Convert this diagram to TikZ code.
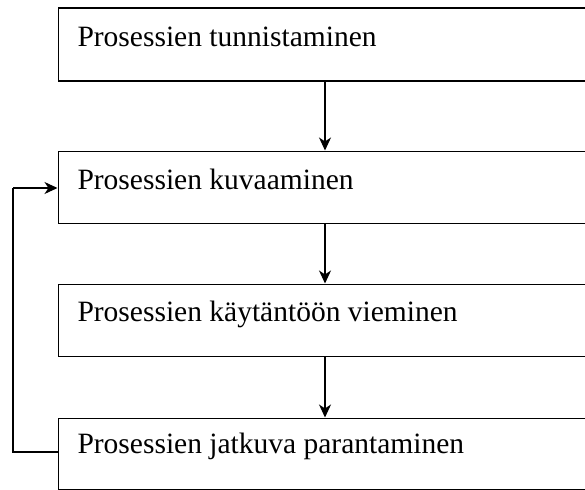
\documentclass[tikz,border=0pt]{standalone}
\usepackage{fontspec}
\setmainfont{Liberation Serif}
\usetikzlibrary{arrows.meta}
\begin{document}
\begin{tikzpicture}[x=1pt,y=1pt,
  box/.style={draw,line width=1.3pt,minimum width=560pt,inner sep=0pt,anchor=north west},
  lbl/.style={anchor=base west,inner sep=0pt,font=\fontsize{29.5}{34}\selectfont},
  conn/.style={line width=1.2pt,-{Stealth[length=13pt,width=12pt,inset=4pt]}},
  fb/.style={line width=1.2pt}]
\useasboundingbox (0,0) rectangle (585,-489);
\node[box,minimum height=73pt] (b1) at (57.5,-7.5) {};
\node[box,minimum height=72pt] (b2) at (57.5,-150.5) {};
\node[box,minimum height=72.5pt] (b3) at (57.5,-283.5) {};
\node[box,minimum height=71pt] (b4) at (57.5,-417.5) {};
\node[lbl] (t1) at ([xshift=19.8pt,yshift=-39pt]b1.north west) {Prosessien tunnistaminen};
\node[lbl] (t2) at ([xshift=19.8pt,yshift=-38.5pt]b2.north west) {Prosessien kuvaaminen};
\node[lbl] (t3) at ([xshift=19.8pt,yshift=-38.2pt]b3.north west) {Prosessien käytäntöön vieminen};
\node[lbl] (t4) at ([xshift=19.8pt,yshift=-36pt]b4.north west) {Prosessien jatkuva parantaminen};
\coordinate (c1) at (325,0);
\draw[conn] (b1.south -| c1) -- (b2.north -| c1);
\draw[conn] (b2.south -| c1) -- (b3.north -| c1);
\draw[conn] (b3.south -| c1) -- (b4.north -| c1);
\coordinate (f1) at (13,-452);
\coordinate (f2) at (13,-188);
\draw[fb] (b4.west |- f1) -- (f1) -- (f2);
\draw[conn] (f2) -- (b2.west |- f2);
\end{tikzpicture}
\end{document}
